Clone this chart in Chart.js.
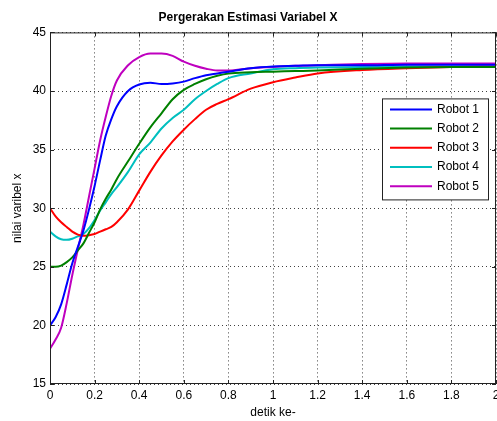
<!DOCTYPE html>
<html>
<head>
<meta charset="utf-8">
<script src="https://cdn.jsdelivr.net/npm/chart.js@4.4.1/dist/chart.umd.min.js"></script>
<style>
  html, body { margin: 0; padding: 0; background: #fff; }
  #wrap { width: 497px; height: 421px; }
</style>
</head>
<body>
<div id="wrap"><canvas id="chart" width="497" height="421"></canvas></div>
<script>
// --- data ---
const tSec = [0, 0.025, 0.05, 0.075, 0.1, 0.125, 0.15, 0.175, 0.2, 0.225, 0.25, 0.275, 0.3, 0.35, 0.4, 0.45, 0.5, 0.55, 0.6, 0.65, 0.7, 0.75, 0.8, 0.9, 1.0, 1.1, 1.2, 1.4, 1.6, 1.8, 2.0];

const robot1 = [20.0, 20.7, 21.8, 23.5, 25.3, 26.7, 28.1, 29.9, 31.9, 34.1, 36.2, 37.6, 38.7, 40.0, 40.55, 40.7, 40.6, 40.65, 40.8, 41.1, 41.35, 41.5, 41.65, 41.95, 42.1, 42.15, 42.2, 42.2, 42.25, 42.25, 42.25];
const robot2 = [25.0, 25.0, 25.1, 25.4, 25.8, 26.4, 27.0, 27.9, 28.8, 29.9, 30.8, 31.6, 32.5, 34.0, 35.5, 36.9, 38.1, 39.3, 40.1, 40.6, 41.0, 41.3, 41.5, 41.6, 41.65, 41.7, 41.75, 41.9, 42.0, 42.05, 42.05];
const robot3 = [30.0, 29.3, 28.8, 28.4, 28.0, 27.75, 27.65, 27.7, 27.8, 28.0, 28.2, 28.4, 28.8, 29.9, 31.5, 33.1, 34.5, 35.7, 36.7, 37.6, 38.4, 38.9, 39.3, 40.2, 40.75, 41.15, 41.5, 41.8, 41.95, 42.05, 42.1];
const robot4 = [28.0, 27.6, 27.35, 27.3, 27.4, 27.6, 27.8, 28.3, 29.0, 29.8, 30.5, 31.2, 31.8, 33.1, 34.6, 35.6, 36.8, 37.7, 38.4, 39.3, 40.0, 40.6, 41.1, 41.5, 41.85, 41.95, 42.0, 42.05, 42.1, 42.1, 42.1];
const robot5 = [18.0, 18.8, 19.8, 21.9, 24.3, 26.5, 28.6, 31.0, 33.4, 35.8, 37.8, 39.6, 40.9, 42.2, 42.9, 43.2, 43.2, 43.0, 42.5, 42.15, 41.9, 41.75, 41.75, 41.95, 42.05, 42.15, 42.2, 42.3, 42.35, 42.35, 42.35];

const seriesNames = ['Robot 1', 'Robot 2', 'Robot 3', 'Robot 4', 'Robot 5'];
const seriesValues = [robot1, robot2, robot3, robot4, robot5];
const seriesColors = ['#0000ff', '#008000', '#ff0000', '#00bfbf', '#bf00bf'];

const FONT = 'Liberation Sans, Arial, sans-serif';

// kotak sumbu + tick ke dalam (gaya MATLAB)
const framePlugin = {
    id: 'frame',
    afterDatasetsDraw(chart) {
        const { ctx, chartArea: a, scales } = chart;
        ctx.save();
        ctx.strokeStyle = '#222';
        ctx.lineWidth = 1;
        ctx.strokeRect(a.left + 0.5, a.top + 0.5, a.right - a.left - 1, a.bottom - a.top - 1);
        ctx.beginPath();
        scales.x.ticks.forEach(t => {
            const px = Math.round(scales.x.getPixelForValue(t.value)) + 0.5;
            ctx.moveTo(px, a.bottom); ctx.lineTo(px, a.bottom - 4);
            ctx.moveTo(px, a.top); ctx.lineTo(px, a.top + 4);
        });
        scales.y.ticks.forEach(t => {
            const py = Math.round(scales.y.getPixelForValue(t.value)) + 0.5;
            ctx.moveTo(a.left, py); ctx.lineTo(a.left + 4, py);
            ctx.moveTo(a.right, py); ctx.lineTo(a.right - 4, py);
        });
        ctx.stroke();
        ctx.restore();
    }
};

// legenda di dalam area plot
const boxLegend = {
    id: 'boxLegend',
    afterDraw(chart) {
        const { ctx, chartArea: a } = chart;
        const sets = chart.data.datasets;
        const w = 106, rowH = 19.2, h = 101;
        const x0 = a.right - 8 - w, y0 = a.top + 66;
        ctx.save();
        ctx.fillStyle = '#fff';
        ctx.fillRect(x0, y0, w, h);
        ctx.strokeStyle = '#222';
        ctx.lineWidth = 1;
        ctx.strokeRect(x0 + 0.5, y0 + 0.5, w, h);
        ctx.font = '12px ' + FONT;
        ctx.textBaseline = 'middle';
        sets.forEach((ds, i) => {
            const y = y0 + 11 + i * rowH;
            ctx.strokeStyle = ds.borderColor;
            ctx.lineWidth = 2;
            ctx.beginPath();
            ctx.moveTo(x0 + 8, y); ctx.lineTo(x0 + 50, y);
            ctx.stroke();
            ctx.fillStyle = '#000';
            ctx.fillText(ds.label, x0 + 55, y);
        });
        ctx.restore();
    }
};

const datasets = seriesNames.map((name, i) => ({
    label: name,
    data: tSec.map((t, k) => ({ x: t, y: seriesValues[i][k] })),
    borderColor: seriesColors[i],
    borderWidth: 2,
    pointRadius: 0,
    cubicInterpolationMode: 'monotone',
    fill: false
}));

const gridStyle = { color: 'rgba(0,0,0,0.75)', lineWidth: 1, drawTicks: false, tickBorderDash: [1, 3] };

new Chart(document.getElementById('chart'), {
    type: 'line',
    data: { datasets },
    options: {
        responsive: false,
        animation: false,
        layout: { padding: { left: 0, right: 1, top: 0, bottom: 0 } },
        plugins: {
            legend: { display: false },
            tooltip: { enabled: false },
            title: {
                display: true,
                text: 'Pergerakan Estimasi Variabel X',
                color: '#000',
                font: { family: FONT, size: 12, weight: 'bold' },
                padding: { top: 10, bottom: 8 }
            }
        },
        scales: {
            x: {
                type: 'linear',
                min: 0, max: 2,
                grid: gridStyle,
                border: { display: false, dash: [1, 3] },
                ticks: {
                    stepSize: 0.2,
                    padding: 4,
                    color: '#000',
                    font: { family: FONT, size: 12 },
                    maxRotation: 0,
                    callback: v => String(+v.toFixed(1))
                },
                title: {
                    display: true,
                    text: 'detik ke-',
                    color: '#000',
                    font: { family: FONT, size: 12 },
                    padding: { top: 0, bottom: 1 }
                },
                afterFit(s) { s.height = 37; s.paddingLeft = 0; s.paddingRight = 0; }
            },
            y: {
                min: 15, max: 45,
                grid: gridStyle,
                border: { display: false, dash: [1, 3] },
                ticks: {
                    stepSize: 5,
                    padding: 4,
                    color: '#000',
                    font: { family: FONT, size: 12 }
                },
                title: {
                    display: true,
                    text: 'nilai varibel x',
                    color: '#000',
                    font: { family: FONT, size: 12 },
                    padding: { top: 10, bottom: 0 }
                },
                afterFit(s) { s.width = 50; }
            }
        }
    },
    plugins: [framePlugin, boxLegend]
});
</script>
</body>
</html>
